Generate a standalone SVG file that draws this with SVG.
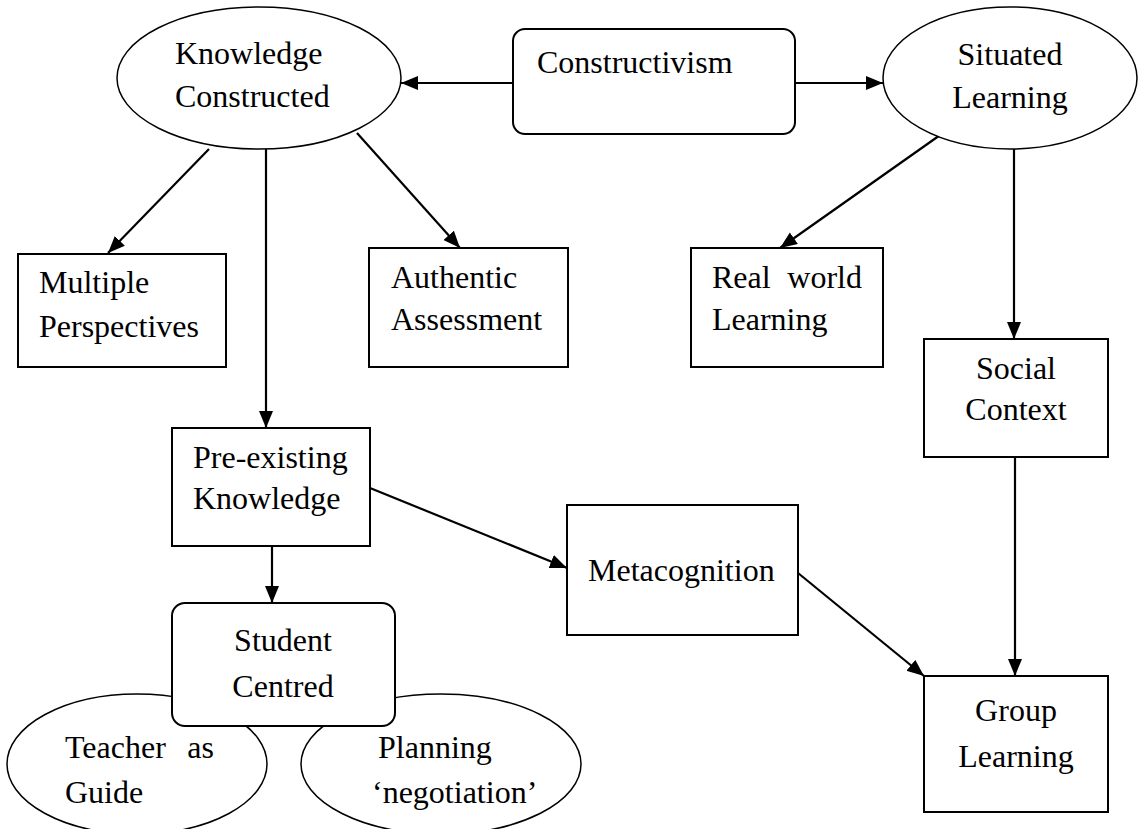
<svg xmlns="http://www.w3.org/2000/svg" width="1140" height="829" viewBox="0 0 1140 829">
  <defs>
    <style>
      .shape { fill: #ffffff; stroke: #000000; stroke-width: 2; }
      .oval { fill: #ffffff; stroke: #000000; stroke-width: 1.5; }
      .label { font-family: "Liberation Serif", "Times New Roman", serif; font-size: 32px; fill: #000000; }
      .mid { text-anchor: middle; }
      .link { fill: none; stroke: #000000; stroke-width: 2.2; marker-end: url(#head); }
    </style>
    <marker id="head" markerUnits="userSpaceOnUse" markerWidth="18" markerHeight="16" refX="17" refY="7" orient="auto">
      <path d="M0,0 L17,7 L0,14 Z" fill="#000000"/>
    </marker>
  </defs>

  <rect width="1140" height="829" fill="#ffffff"/>

  <!-- connectors -->
  <g id="connectors">
    <line class="link" x1="513" y1="83" x2="401" y2="83"/>
    <line class="link" x1="795" y1="83" x2="883" y2="83"/>
    <line class="link" x1="209" y1="149" x2="108" y2="253"/>
    <line class="link" x1="266" y1="149" x2="266" y2="428"/>
    <line class="link" x1="357" y1="133" x2="460" y2="248"/>
    <line class="link" x1="943" y1="133" x2="780" y2="248"/>
    <line class="link" x1="1014" y1="149" x2="1014" y2="339"/>
    <line class="link" x1="1015" y1="457" x2="1015" y2="676"/>
    <line class="link" x1="370" y1="488" x2="567" y2="568"/>
    <line class="link" x1="798" y1="573" x2="924" y2="676"/>
    <line class="link" x1="272" y1="546" x2="272" y2="603"/>
  </g>

  <g id="knowledge-constructed">
    <ellipse class="oval" cx="259" cy="78" rx="142" ry="71"/>
    <text class="label" x="175" y="64">Knowledge</text>
    <text class="label" x="175" y="107">Constructed</text>
  </g>

  <g id="constructivism">
    <rect class="shape" x="513" y="29" width="282" height="105" rx="12"/>
    <text class="label" x="537" y="73">Constructivism</text>
  </g>

  <g id="situated-learning">
    <ellipse class="oval" cx="1010" cy="78" rx="127" ry="71"/>
    <text class="label mid" x="1010" y="65">Situated</text>
    <text class="label mid" x="1010" y="108">Learning</text>
  </g>

  <g id="multiple-perspectives">
    <rect class="shape" x="18" y="254" width="208" height="113"/>
    <text class="label" x="39" y="293">Multiple</text>
    <text class="label" x="39" y="337">Perspectives</text>
  </g>

  <g id="authentic-assessment">
    <rect class="shape" x="369" y="248" width="199" height="119"/>
    <text class="label" x="391" y="288">Authentic</text>
    <text class="label" x="391" y="330">Assessment</text>
  </g>

  <g id="real-world-learning">
    <rect class="shape" x="691" y="248" width="192" height="119"/>
    <text class="label" x="712" y="288">Real</text>
    <text class="label" x="862" y="288" text-anchor="end">world</text>
    <text class="label" x="712" y="330">Learning</text>
  </g>

  <g id="social-context">
    <rect class="shape" x="924" y="339" width="184" height="118"/>
    <text class="label mid" x="1016" y="379">Social</text>
    <text class="label mid" x="1016" y="420">Context</text>
  </g>

  <g id="pre-existing-knowledge">
    <rect class="shape" x="172" y="428" width="198" height="118"/>
    <text class="label" x="193" y="468">Pre-existing</text>
    <text class="label" x="193" y="509">Knowledge</text>
  </g>

  <g id="metacognition">
    <rect class="shape" x="567" y="505" width="231" height="130"/>
    <text class="label" x="588" y="581">Metacognition</text>
  </g>

  <g id="group-learning">
    <rect class="shape" x="924" y="676" width="184" height="136"/>
    <text class="label mid" x="1016" y="721">Group</text>
    <text class="label mid" x="1016" y="767">Learning</text>
  </g>

  <!-- the two ovals sit behind the Student Centred box -->
  <g id="teacher-as-guide">
    <ellipse class="oval" cx="137" cy="764" rx="130" ry="70"/>
    <text class="label" x="65" y="758">Teacher</text>
    <text class="label" x="214" y="758" text-anchor="end">as</text>
    <text class="label" x="65" y="803">Guide</text>
  </g>

  <g id="planning-negotiation">
    <ellipse class="oval" cx="441" cy="764" rx="140" ry="70"/>
    <text class="label" x="378" y="758">Planning</text>
    <text class="label" x="372" y="803">‘negotiation’</text>
  </g>

  <g id="student-centred">
    <rect class="shape" x="172" y="603" width="223" height="123" rx="13"/>
    <text class="label mid" x="283" y="651">Student</text>
    <text class="label mid" x="283" y="697">Centred</text>
  </g>
</svg>
